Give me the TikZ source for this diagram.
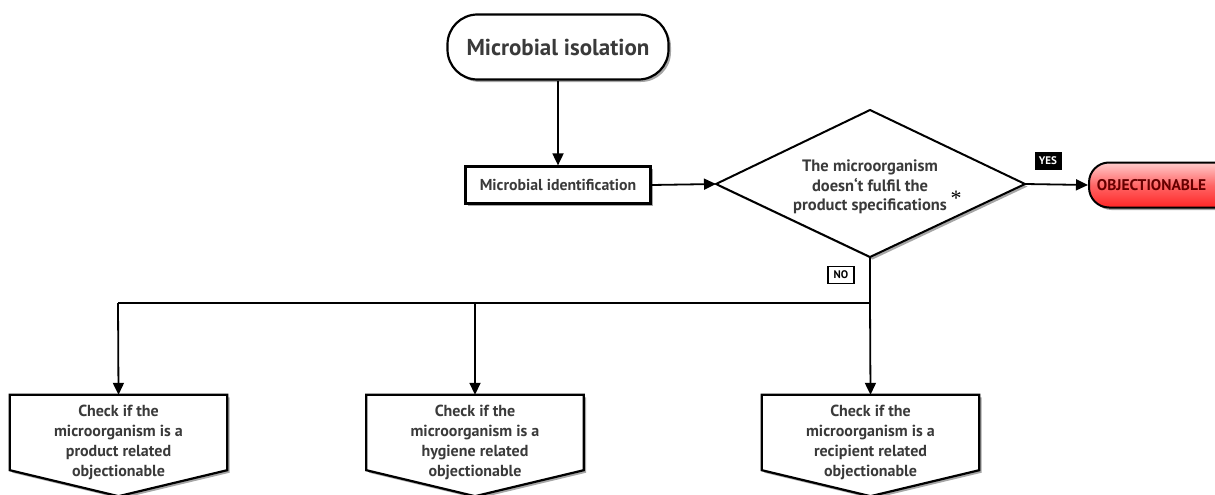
\documentclass[tikz,border=0pt]{standalone}
\usepackage{fontspec}
\setmainfont{PT Sans}
\newfontfamily\astfont{Liberation Serif}
\usetikzlibrary{arrows.meta,shadows,calc}
\definecolor{txt}{HTML}{3A3A3A}
\begin{document}
\begin{tikzpicture}[x=1pt,y=-1pt,
  font=\bfseries, text=txt,
  line/.style={line width=1.8pt,draw=black},
  arr/.style={line, -{Triangle[length=12pt,width=11pt]}},
  shad/.style={drop shadow={shadow xshift=2.5pt,shadow yshift=-2.5pt,opacity=0.35,fill=black}},
  procbox/.style={draw=black,line width=2.2pt,fill=white,shad,inner sep=0pt},
  chkshape/.style={inner sep=0pt,minimum width=217pt,minimum height=75pt},
  chk/.style={inner sep=0pt,align=center,font=\bfseries\fontsize{16}{20}\selectfont,text=txt},
]
\useasboundingbox (0,0) rectangle (1215,495);
\clip (0,0) rectangle (1215,495);
% start
\node[procbox,rounded corners=30pt,minimum width=221pt,minimum height=65pt,font=\bfseries\fontsize{23}{26}\selectfont] (iso) at (558,47) {Microbial isolation};
% identification
\node[procbox,minimum width=185pt,minimum height=37pt,font=\bfseries\fontsize{15.8}{18}\selectfont] (ident) at (558,185) {Microbial identification};
% diamond
\coordinate (dL) at (716,184);
\coordinate (dR) at (1025,184);
\coordinate (dT) at (870,110);
\coordinate (dB) at (870,257);
\filldraw[line width=2pt,fill=white,shad,line join=miter] (dL) -- (dT) -- (dR) -- (dB) -- cycle;
\node[align=center,font=\bfseries\fontsize{16.5}{19.5}\selectfont] (dtext) at (870,187) {The microorganism\\doesn`t fulfil the\\product specifications};
\node[font=\astfont\fontsize{22}{22}\selectfont,text=black,inner sep=0pt] (ast) at (956,198) {*};
% objectionable
\node[draw=black,line width=2pt,rounded corners=20pt,minimum width=150pt,minimum height=45pt,
  top color=red!20!white,bottom color=red!85!white,middle color=red!60!white,shad,
  font=\bfseries\fontsize{15.5}{18}\selectfont,text=red!40!black,anchor=west] (obj) at (1088,185) {\hspace*{-25pt}OBJECTIONABLE};
% yes / no labels
\node[fill=black,text=white,font=\bfseries\fontsize{11}{12}\selectfont,minimum width=27pt,minimum height=18pt,inner sep=0pt] (yes) at (1048,161) {YES};
\node[draw=black,line width=1.5pt,fill=white,text=black,font=\bfseries\fontsize{11}{12}\selectfont,minimum width=26pt,minimum height=17pt,inner sep=0pt] (no) at (841,275) {NO};
% connectors
\draw[arr] (iso.south) -- (ident.north);
\draw[arr] (ident.east) -- (dL);
\draw[arr] (dR) -- (obj.west);
\coordinate (j) at (870,303);
\coordinate (jl) at (118,303);
\coordinate (jm) at (475,303);
\draw[line] (dB) -- (j);
\draw[line] (j) -- (jl);
% check boxes
\node[chkshape] (b1) at (118.5,432.5) {};
\node[chkshape] (b2) at (475,432.5) {};
\node[chkshape] (b3) at (870.5,432.5) {};
\foreach \b in {b1,b2,b3}{
  \filldraw[line width=2.2pt,fill=white,shad,line join=miter]
   (\b.north west) -- (\b.north east) -- (\b.south east) -- ($(\b.south)+(0,26)$) -- (\b.south west) -- cycle;
}
\node[chk] (t1) at ($(b1)+(0,10)$) {Check if the\\microorganism is a\\product related\\objectionable};
\node[chk] (t2) at ($(b2)+(0,10)$) {Check if the\\microorganism is a\\hygiene related\\objectionable};
\node[chk] (t3) at ($(b3)+(0,10)$) {Check if the\\microorganism is a\\recipient related\\objectionable};
\draw[arr] (jl) -- (b1.north);
\draw[arr] (jm) -- (b2.north);
\draw[arr] (j) -- (b3.north);
\end{tikzpicture}
\end{document}
